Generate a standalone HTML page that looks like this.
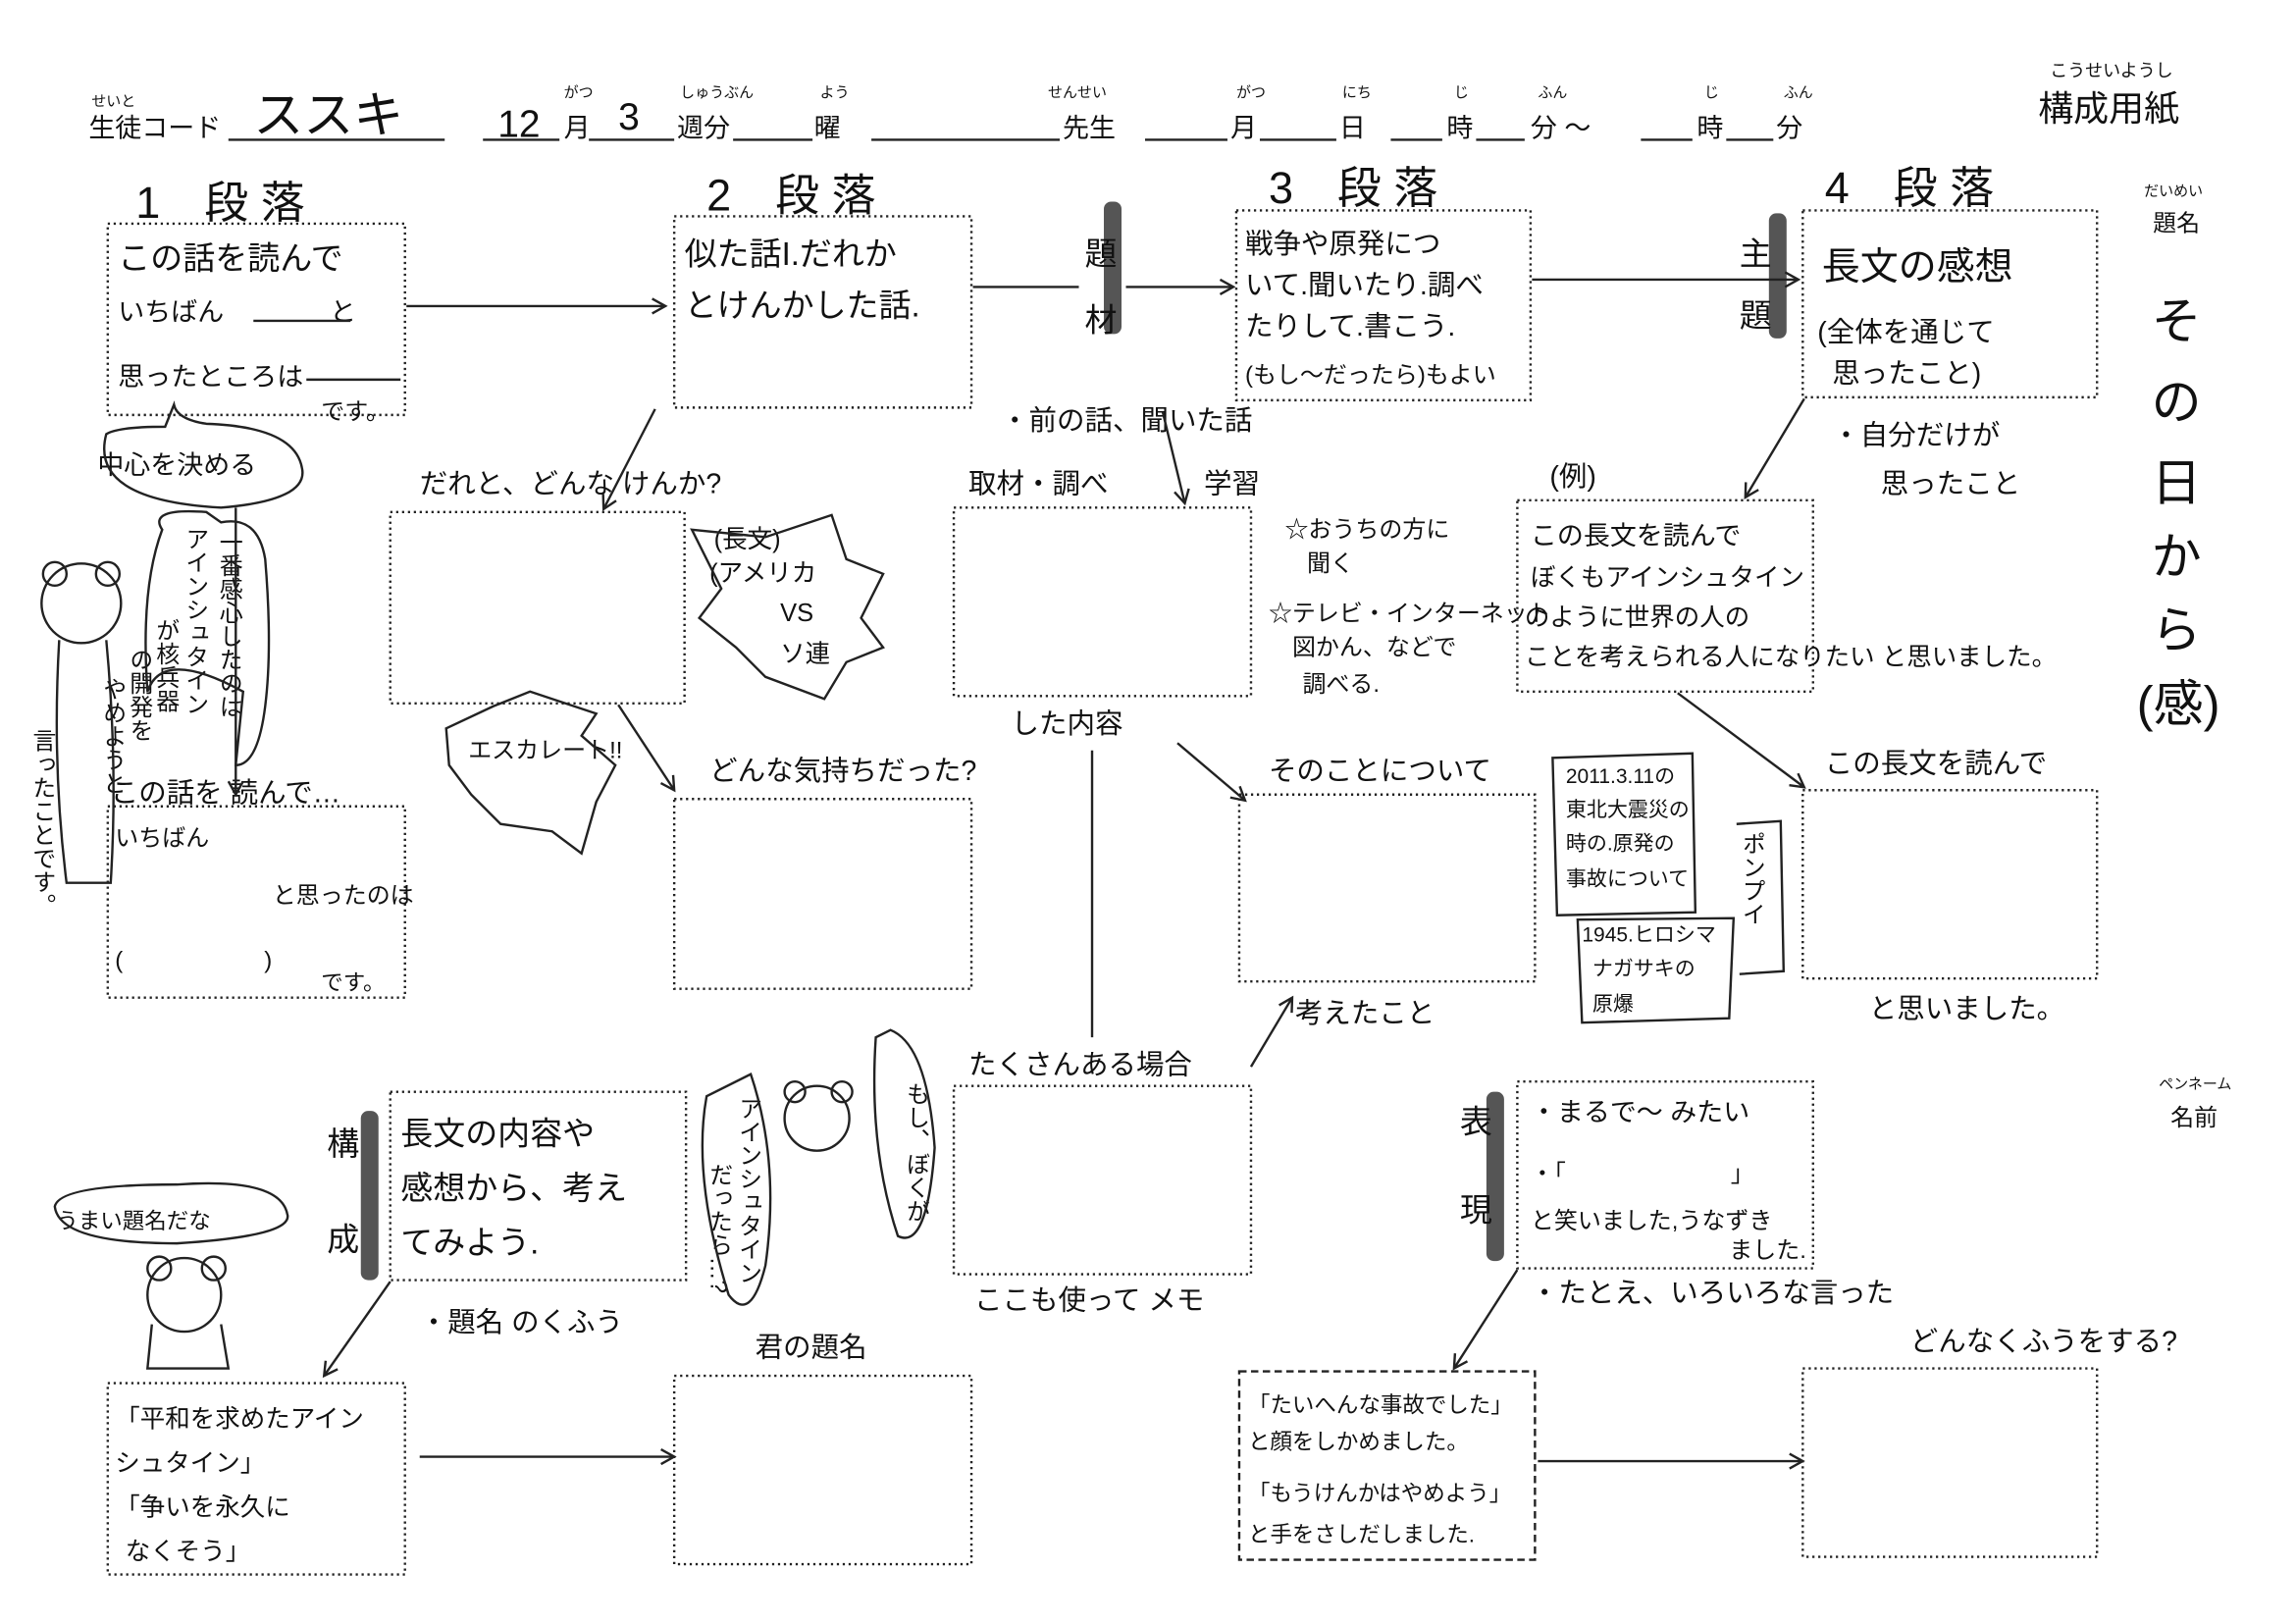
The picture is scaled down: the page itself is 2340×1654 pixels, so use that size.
<!DOCTYPE html>
<html><head><meta charset="utf-8"><style>
html,body{margin:0;padding:0;background:#fff;}
svg{display:block;}
text{font-family:"Liberation Sans","Noto Sans CJK JP",sans-serif;fill:#111;}
.h{font-size:22px;}
.s{font-size:10px;}
.b{fill:none;stroke:#222;stroke-width:1.6;stroke-dasharray:1.5 2.5;}
.l{stroke:#222;stroke-width:1.6;fill:none;}
</style></head><body>
<svg width="2340" height="1654" viewBox="0 0 1560 1103" xmlns="http://www.w3.org/2000/svg">
<defs><marker id="a" markerWidth="12" markerHeight="12" refX="10" refY="6" orient="auto" markerUnits="userSpaceOnUse"><path d="M1,1 L10,6 L1,11" fill="none" stroke="#222" stroke-width="1.6"/></marker></defs>
<!-- header -->
<text x="62" y="72" class="s">せいと</text>
<text x="60" y="93" style="font-size:18px">生徒コード</text>
<text x="172" y="90" style="font-size:34px">ススキ</text>
<line x1="155" y1="95" x2="302" y2="95" class="l" stroke-width="1"/>
<text x="338" y="93" style="font-size:26px">12</text><text x="383" y="66" class="s">がつ</text>
<text x="383" y="93" style="font-size:18px">月</text>
<text x="420" y="88" style="font-size:26px">3</text>
<line x1="328" y1="95" x2="380" y2="95" class="l" stroke-width="1"/>
<line x1="400" y1="95" x2="458" y2="95" class="l" stroke-width="1"/>
<text x="462" y="66" class="s">しゅうぶん</text><text x="460" y="93" style="font-size:18px">週分</text>
<line x1="498" y1="95" x2="552" y2="95" class="l" stroke-width="1"/>
<text x="557" y="66" class="s">よう</text><text x="553" y="93" style="font-size:18px">曜</text>
<line x1="592" y1="95" x2="720" y2="95" class="l" stroke-width="1"/>
<text x="712" y="66" class="s">せんせい</text><text x="722" y="93" style="font-size:18px">先生</text>
<line x1="778" y1="95" x2="834" y2="95" class="l" stroke-width="1"/>
<text x="840" y="66" class="s">がつ</text><text x="836" y="93" style="font-size:18px">月</text>
<line x1="856" y1="95" x2="908" y2="95" class="l" stroke-width="1"/>
<text x="912" y="66" class="s">にち</text><text x="910" y="93" style="font-size:18px">日</text>
<line x1="945" y1="95" x2="980" y2="95" class="l" stroke-width="1"/>
<text x="988" y="66" class="s">じ</text><text x="983" y="93" style="font-size:18px">時</text>
<line x1="1003" y1="95" x2="1036" y2="95" class="l" stroke-width="1"/>
<text x="1045" y="66" class="s">ふん</text><text x="1040" y="93" style="font-size:18px">分 ～</text>
<line x1="1115" y1="95" x2="1150" y2="95" class="l" stroke-width="1"/>
<text x="1158" y="66" class="s">じ</text><text x="1153" y="93" style="font-size:18px">時</text>
<line x1="1173" y1="95" x2="1205" y2="95" class="l" stroke-width="1"/>
<text x="1212" y="66" class="s">ふん</text><text x="1207" y="93" style="font-size:18px">分</text>
<text x="1393" y="52" class="s" style="font-size:12px">こうせいようし</text>
<text x="1385" y="82" style="font-size:24px">構成用紙</text>
<text x="1457" y="133" class="s">だいめい</text>
<text x="1463" y="157" style="font-size:16px">題名</text>
<text x="1467" y="740" class="s">ペンネーム</text>
<text x="1475" y="765" style="font-size:16px">名前</text>
<g style="font-size:34px"><text x="1462" y="230">そ</text><text x="1462" y="285">の</text><text x="1462" y="340">日</text><text x="1462" y="390">か</text><text x="1462" y="440">ら</text><text x="1452" y="490">(感)</text></g>
<!-- paragraph headings -->
<g style="font-size:30px"><text x="92" y="148">1　段 落</text><text x="480" y="143">2　段 落</text><text x="862" y="138">3　段 落</text><text x="1240" y="138">4　段 落</text></g>
<!-- boxes -->
<rect x="73" y="152" width="202" height="130" class="b"/>
<rect x="458" y="147" width="202" height="130" class="b"/>
<rect x="840" y="143" width="200" height="129" class="b"/>
<rect x="1225" y="143" width="200" height="127" class="b"/>
<rect x="265" y="348" width="200" height="130" class="b"/>
<rect x="648" y="345" width="202" height="128" class="b"/>
<rect x="1031" y="340" width="201" height="130" class="b"/>
<rect x="73" y="548" width="202" height="130" class="b"/>
<rect x="458" y="543" width="202" height="129" class="b"/>
<rect x="842" y="540" width="201" height="127" class="b"/>
<rect x="1225" y="537" width="200" height="128" class="b"/>
<rect x="265" y="742" width="201" height="128" class="b"/>
<rect x="648" y="738" width="202" height="128" class="b"/>
<rect x="1031" y="735" width="201" height="127" class="b"/>
<rect x="73" y="940" width="202" height="130" class="b"/>
<rect x="458" y="935" width="202" height="128" class="b"/>
<rect x="842" y="932" width="201" height="128" class="b" style="stroke-dasharray:5 3"/>
<rect x="1225" y="930" width="200" height="128" class="b"/>
<!-- box text -->
<g class="h">
<text x="80" y="183">この話を読んで</text>
<text x="80" y="218" style="font-size:18px">いちばん　　　　と</text>
<line x1="172" y1="218" x2="238" y2="218" class="l" stroke-width="1.2"/>
<text x="80" y="262" style="font-size:18px">思ったところは</text>
<line x1="208" y1="258" x2="272" y2="258" class="l" stroke-width="1.2"/>
<text x="218" y="285" style="font-size:16px">です。</text>
<text x="465" y="180">似た話I.だれか</text>
<text x="465" y="215">とけんかした話.</text>
<text x="846" y="172" style="font-size:19px">戦争や原発につ</text>
<text x="846" y="200" style="font-size:19px">いて.聞いたり.調べ</text>
<text x="846" y="228" style="font-size:19px">たりして.書こう.</text>
<text x="846" y="260" style="font-size:16px">(もし～だったら)もよい</text>
<text x="1238" y="190" style="font-size:26px">長文の感想</text>
<text x="1235" y="232" style="font-size:19px">(全体を通じて</text>
<text x="1245" y="260" style="font-size:19px">思ったこと)</text>
<text x="1040" y="370" style="font-size:18px">この長文を読んで</text>
<text x="1040" y="398" style="font-size:17px">ぼくもアインシュタイン</text>
<text x="1036" y="425" style="font-size:17px">のように世界の人の</text>
<text x="1036" y="452" style="font-size:17px">ことを考えられる人になりたい と思いました。</text>
<text x="78" y="575" style="font-size:16px">いちばん</text>
<text x="185" y="614" style="font-size:16px">と思ったのは</text>
<text x="78" y="658" style="font-size:16px">(　　　　　　)</text>
<text x="218" y="673" style="font-size:15px">です。</text>
<text x="272" y="778">長文の内容や</text>
<text x="272" y="815">感想から、考え</text>
<text x="272" y="852">てみよう.</text>
<text x="1040" y="762" style="font-size:18px">・まるで～ みたい</text>
<text x="1040" y="803" style="font-size:16px">・「　　　　　　　」</text>
<text x="1040" y="835" style="font-size:16px">と笑いました,うなずき</text>
<text x="1175" y="855" style="font-size:16px">ました.</text>
<text x="78" y="970" style="font-size:17px">「平和を求めたアイン</text>
<text x="78" y="1000" style="font-size:17px">シュタイン」</text>
<text x="78" y="1030" style="font-size:17px">「争いを永久に</text>
<text x="85" y="1060" style="font-size:17px">なくそう」</text>
<text x="848" y="960" style="font-size:15px">「たいへんな事故でした」</text>
<text x="848" y="985" style="font-size:15px">と顔をしかめました。</text>
<text x="848" y="1020" style="font-size:15px">「もうけんかはやめよう」</text>
<text x="848" y="1048" style="font-size:15px">と手をさしだしました.</text>
</g>
<!-- labels -->
<g style="font-size:19px">
<text x="285" y="335">だれと、どんな けんか?</text>
<text x="658" y="335">取材・調べ</text><text x="818" y="335">学習</text>
<text x="680" y="292">・前の話、聞いた話</text>
<text x="1053" y="330">(例)</text>
<text x="1245" y="302">・自分だけが</text><text x="1278" y="335">思ったこと</text>
<text x="873" y="365" style="font-size:16px">☆おうちの方に</text><text x="888" y="388" style="font-size:16px">聞く</text>
<text x="862" y="422" style="font-size:16px">☆テレビ・インターネット</text>
<text x="878" y="445" style="font-size:16px">図かん、などで</text><text x="885" y="470" style="font-size:16px">調べる.</text>
<text x="687" y="498">した内容</text>
<text x="482" y="530">どんな気持ちだった?</text>
<text x="862" y="530">そのことについて</text>
<text x="1240" y="525">この長文を読んで</text>
<text x="75" y="545">この話を 読んで…</text>
<text x="1270" y="692">と思いました。</text>
<text x="880" y="695">考えたこと</text>
<text x="658" y="730">たくさんある場合</text>
<text x="662" y="890">ここも使って メモ</text>
<text x="1040" y="885">・たとえ、いろいろな言った</text>
<text x="1298" y="918">どんなくふうをする?</text>
<text x="285" y="905">・題名 のくふう</text>
<text x="513" y="922">君の題名</text>
<text x="66" y="322" style="font-size:18px">中心を決める</text>
<text x="485" y="372" style="font-size:17px">(長文)</text><text x="482" y="395" style="font-size:17px">(アメリカ</text><text x="530" y="422" style="font-size:17px">VS</text><text x="530" y="450" style="font-size:17px">ソ連</text>
<text x="318" y="515" style="font-size:16px">エスカレート!!</text>
<text x="38" y="835" style="font-size:15px">うまい題名だな</text>
<text x="1064" y="532" style="font-size:14px">2011.3.11の</text><text x="1064" y="555" style="font-size:14px">東北大震災の</text><text x="1064" y="578" style="font-size:14px">時の.原発の</text><text x="1064" y="602" style="font-size:14px">事故について</text>
<text x="1075" y="640" style="font-size:14px">1945.ヒロシマ</text><text x="1082" y="663" style="font-size:14px">ナガサキの</text><text x="1082" y="687" style="font-size:14px">原爆</text>
</g>
<!-- vertical labels with grey bars -->
<rect x="750" y="137" width="12" height="90" fill="#555" rx="5"/>
<text x="737" y="180" style="font-size:22px">題</text><text x="737" y="225" style="font-size:22px">材</text>
<rect x="1202" y="145" width="12" height="85" fill="#555" rx="5"/>
<text x="1182" y="180" style="font-size:22px">主</text><text x="1182" y="222" style="font-size:22px">題</text>
<rect x="245" y="755" width="12" height="115" fill="#555" rx="5"/>
<text x="222" y="785" style="font-size:22px">構</text><text x="222" y="850" style="font-size:22px">成</text>
<rect x="1010" y="742" width="12" height="115" fill="#555" rx="5"/>
<text x="992" y="770" style="font-size:22px">表</text><text x="992" y="830" style="font-size:22px">現</text>
<!-- vertical texts near bears -->
<g style="font-size:16px">
<text x="155" y="360" writing-mode="tb">一番感心したのは</text>
<text x="132" y="358" writing-mode="tb">アインシュタイン</text>
<text x="112" y="420" writing-mode="tb">が核兵器</text>
<text x="94" y="440" writing-mode="tb">の開発を</text>
<text x="76" y="460" writing-mode="tb">やめようと</text>
<text x="28" y="495" writing-mode="tb">言ったことです。</text>
<text x="508" y="745" writing-mode="tb">アインシュタイン</text>
<text x="488" y="790" writing-mode="tb">だったら…?</text>
<text x="622" y="735" writing-mode="tb">もし、ぼくが</text>
<text x="1190" y="565" writing-mode="tb">ポンプイ</text>
</g>
<!-- bubbles -->
<path d="M72,295 Q60,340 150,345 Q210,340 205,318 Q200,290 140,288 Q120,285 118,275 L112,290 Q80,290 72,295Z" class="l"/>
<path d="M110,360 Q100,345 140,348 L150,355 Q175,350 180,380 Q185,440 180,480 Q175,520 160,520 L165,470 Q110,440 100,470 Q95,400 110,360Z" class="l"/>
<path d="M37,820 Q40,845 120,845 Q200,840 195,825 Q190,800 120,805 Q40,805 37,820Z" class="l"/>
<path d="M303,495 L335,480 L360,470 L405,485 L395,500 L418,520 L405,545 L395,580 L375,565 L340,560 L320,540 L305,520Z" class="l"/>
<path d="M470,360 L520,365 L565,350 L575,380 L600,390 L585,420 L600,440 L575,450 L560,475 L520,460 L500,440 L475,420 L490,400Z" class="l"/>
<path d="M480,745 Q470,800 495,880 Q510,900 520,860 Q530,790 510,730Z" class="l"/>
<path d="M595,705 Q590,780 610,840 Q630,850 635,780 Q630,710 605,700Z" class="l"/>
<!-- bears -->
<g class="l" fill="#fff">
<circle cx="55" cy="410" r="27"/><circle cx="37" cy="390" r="8"/><circle cx="73" cy="390" r="8"/>
<path d="M40,435 Q35,520 45,600 L75,600 Q80,520 72,435"/>
<circle cx="125" cy="880" r="25"/><circle cx="108" cy="862" r="8"/><circle cx="145" cy="862" r="8"/>
<path d="M103,900 L100,930 L155,930 L150,900"/>
<circle cx="555" cy="760" r="22"/><circle cx="540" cy="742" r="7"/><circle cx="572" cy="742" r="7"/>
</g>
<!-- connectors -->
<g class="l" marker-end="url(#a)">
<line x1="276" y1="208" x2="452" y2="208"/>
<line x1="765" y1="195" x2="838" y2="195"/>
<line x1="1041" y1="190" x2="1222" y2="190"/>
<line x1="445" y1="278" x2="410" y2="346"/>
<line x1="1226" y1="271" x2="1186" y2="338"/>
<line x1="420" y1="479" x2="458" y2="537"/>
<line x1="1140" y1="471" x2="1226" y2="535"/>
<line x1="160" y1="345" x2="160" y2="540"/>
<line x1="800" y1="505" x2="846" y2="544"/>
<line x1="850" y1="725" x2="878" y2="678"/>
<line x1="265" y1="871" x2="220" y2="935"/>
<line x1="1031" y1="863" x2="988" y2="930"/>
<line x1="285" y1="990" x2="458" y2="990"/>
<line x1="1045" y1="993" x2="1225" y2="993"/>
<line x1="790" y1="280" x2="805" y2="342"/>
</g>
<line x1="661" y1="195" x2="733" y2="195" class="l"/>
<line x1="742" y1="510" x2="742" y2="705" class="l"/>
<path d="M1055,515 L1150,512 L1152,620 L1058,622Z" class="l"/>
<path d="M1072,625 L1178,624 L1175,692 L1075,695Z" class="l"/>
<path d="M1180,560 L1210,558 L1212,660 L1182,662" class="l"/>
</svg>
</body></html>
